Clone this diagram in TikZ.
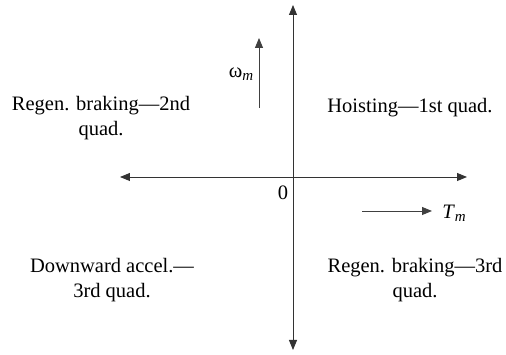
\documentclass[tikz,border=0pt]{standalone}
\usepackage{fontspec}
\setmainfont{Liberation Serif}
\usetikzlibrary{arrows.meta,positioning}
\newcommand{\sublow}[1]{\raisebox{-0.35ex}{\fontsize{15}{15}\selectfont\textit{#1}}}

\begin{document}
\begin{tikzpicture}[x=1pt,y=1pt,font=\fontsize{20.5}{25}\selectfont,
  axis/.style={draw=black!80,line width=0.9pt,{Triangle[length=10pt,width=8pt]}-{Triangle[length=10pt,width=8pt]}},
  dirarrow/.style={draw=black!75,line width=0.9pt,-{Triangle[length=10pt,width=8pt]}},
  quad/.style={align=center}]
\useasboundingbox (-293,-178) rectangle (213,177);
% axes
\coordinate (o) at (0,0);
\coordinate (top) at (0,172);
\coordinate (bot) at (0,-173);
\coordinate (lft) at (-173,0);
\coordinate (rgt) at (174,0);
\draw[axis] (lft) -- (rgt);
\draw[axis] (bot) -- (top);
\node (zero) at (-10,-16) {0};
% speed and torque directions
\coordinate (w0) at (-34,69);
\coordinate (w1) at (-34,139);
\draw[dirarrow] (w0) -- (w1);
\node (wm) at (-52,103) {ω\sublow{m}};
\coordinate (t0) at (69,-34);
\coordinate (t1) at (139,-34);
\draw[dirarrow] (t0) -- (t1);
\node (tm) at (161,-36) {\textit{T}\sublow{m}};
% quadrants
\node[quad] (q2) at (-192,59) {Regen. braking---2nd\\quad.};
\node[quad] (q1) at (117,69) {Hoisting---1st quad.};
\node[quad] (q3) at (-181,-103) {Downward accel.---\\3rd quad.};
\node[quad] (q4) at (122,-103) {Regen. braking---3rd\\quad.};
\end{tikzpicture}
\end{document}
